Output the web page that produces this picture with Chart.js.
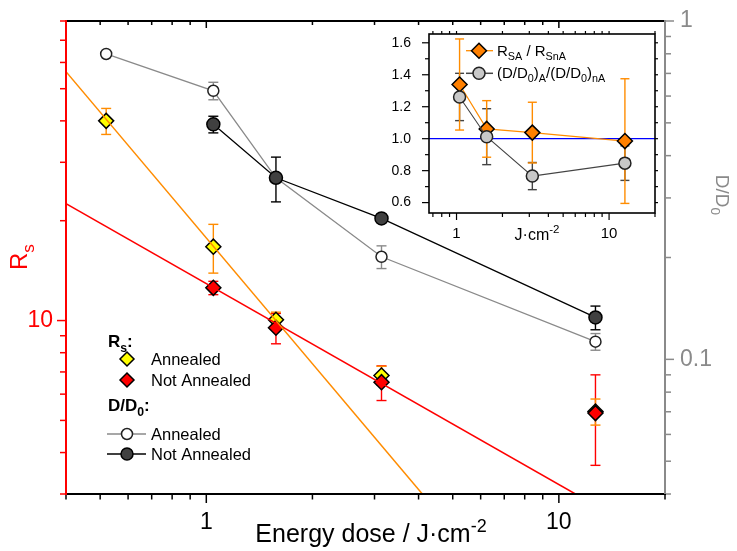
<!DOCTYPE html>
<html>
<head>
<meta charset="utf-8">
<script src="https://cdn.jsdelivr.net/npm/chart.js@4.4.0/dist/chart.umd.min.js"></script>
<style>
  body { margin: 0; background: #fff; }
  #wrap { position: relative; width: 737px; height: 551px; }
  #main { position: absolute; left: 0; top: 0; }
  #inset { position: absolute; left: 380px; top: 25px; }
</style>
</head>
<body>
<div id="wrap">
  <canvas id="main" width="737" height="551"></canvas>
  <canvas id="inset" width="285" height="225"></canvas>
</div>
<script>
// energy dose, J/cm2
const dose = [0.52, 1.047, 1.576, 3.14, 12.7];

// sheet resistance Rs (left axis)
const rsA = [40.0, 16.7, 10.05, 6.83, 5.32];
const rsAErr = [3.6, 2.8, 0.55, 0.45, 0.48];
const rsNA = [null, 12.55, 9.51, 6.52, 5.26];
const rsNAErr = [null, 0.58, 1.0, 0.78, 1.6];

// D/D0 (right axis)
const ddA = [0.799, 0.622, 0.344, 0.201, 0.1128];
const ddAErr = [0, 0.037, 0, 0.0155, 0.0064];
const ddNA = [null, 0.495, 0.344, 0.261, 0.133];
const ddNAErr = [null, 0.028, 0.052, 0.004, 0.0107];

// power-law fit lines, end points
const fitADose = [0.4, 4.1];
const fitARs = [56.3, 3];
const fitNADose = [0.4, 11.14];
const fitNARs = [22.5, 3];

// inset: ratios
const insetDose = [1.047, 1.576, 3.14, 12.7];
const ratioRs = [1.339, 1.061, 1.038, 0.985];
const ratioRsErr = [0.285, 0.177, 0.19, 0.39];
const ratioD = [1.261, 1.0125, 0.766, 0.847];
const ratioDErr = [0.148, 0.175, 0.085, 0.108];
const insetRefLevel = 1.0;

// axes
const xRange = [0.4, 20];
const rsRange = [3, 80];
const ddRange = [0.04, 1];
const xTickLabels = [1, 10];
const rsTickLabels = [10];
const ddTickLabels = [0.1, 1];
const insetXRange = [0.66, 20];
const insetYRange = [0.535, 1.655];
const insetXTickLabels = [1, 10];
const insetYTickLabels = [0.6, 0.8, 1.0, 1.2, 1.4, 1.6];

const FONT = 'Liberation Sans, Arial, Helvetica, sans-serif';
const GRAY = '#8a8a8a';
const ORANGE = '#ff8c00';

const pts = (xs, ys) => xs.map((x, i) => ({ x: x, y: ys[i] }));

function logTicks(min, max) {
  const out = [];
  for (let e = Math.floor(Math.log10(min)); e <= Math.ceil(Math.log10(max)); e++) {
    for (let k = 1; k <= 9; k++) {
      const v = k * Math.pow(10, e);
      if (v >= min * 0.999 && v <= max * 1.001) out.push({ v: v, major: k === 1 });
    }
  }
  return out;
}

function seg(ctx, x1, y1, x2, y2) {
  ctx.beginPath();
  ctx.moveTo(x1, y1);
  ctx.lineTo(x2, y2);
  ctx.stroke();
}

// fixed box size for a scale, no extra label padding
function fixSize(w, h) {
  return s => {
    if (w != null) s.width = w;
    if (h != null) s.height = h;
    s.paddingTop = s.paddingBottom = s.paddingLeft = s.paddingRight = 0;
  };
}

// text with sub / superscripts: parts = [[text, 'sub'|'sup'|undefined], ...]
function rich(ctx, parts, x, y, size, weight, align) {
  const fontOf = k => (weight || '') + ' ' + (k ? size * 0.72 : size) + 'px ' + FONT;
  let w = 0;
  parts.forEach(([t, k]) => { ctx.font = fontOf(k); w += ctx.measureText(t).width; });
  let cx = align === 'center' ? x - w / 2 : x;
  ctx.textAlign = 'left';
  ctx.textBaseline = 'alphabetic';
  parts.forEach(([t, k]) => {
    ctx.font = fontOf(k);
    const dy = k === 'sub' ? size * 0.28 : k === 'sup' ? -size * 0.42 : 0;
    ctx.fillText(t, cx, y + dy);
    cx += ctx.measureText(t).width;
  });
}

function marker(ctx, style, r, x, y, fill, stroke, bw) {
  ctx.fillStyle = fill;
  ctx.strokeStyle = stroke;
  ctx.lineWidth = bw;
  Chart.helpers.drawPoint(ctx, { pointStyle: style, radius: r, borderWidth: bw, rotation: 0 }, x, y);
}

// error bars from dataset.errors, drawn under the markers
const errorBars = {
  id: 'errorBars',
  beforeDatasetsDraw(chart) {
    const ctx = chart.ctx;
    ctx.save();
    chart.data.datasets.forEach((ds, i) => {
      if (!ds.errors) return;
      const meta = chart.getDatasetMeta(i);
      const sc = chart.scales[ds.yAxisID];
      ctx.strokeStyle = ds.errColor;
      ctx.lineWidth = 1.4;
      ds.data.forEach((p, j) => {
        const e = ds.errors[j];
        if (p.y == null || !e) return;
        const px = meta.data[j].x;
        const t = sc.getPixelForValue(p.y + e);
        const b = sc.getPixelForValue(p.y - e);
        seg(ctx, px, t, px, b);
        seg(ctx, px - ds.capW, t, px + ds.capW, t);
        seg(ctx, px - ds.capW, b, px + ds.capW, b);
      });
    });
    ctx.restore();
  }
};

const mainDecor = {
  id: 'mainDecor',
  afterDraw(chart) {
    const { ctx, chartArea: a } = chart;
    const { x, y, y2 } = chart.scales;
    ctx.save();
    ctx.lineCap = 'butt';
    // x ticks, bottom (out) and top (in)
    ctx.strokeStyle = '#000';
    ctx.lineWidth = 1.5;
    logTicks(x.min, x.max).forEach(t => {
      const px = x.getPixelForValue(t.v);
      seg(ctx, px, a.bottom, px, a.bottom + (t.major ? 9 : 5.5));
      seg(ctx, px, a.top, px, a.top + (t.major ? 7 : 4));
    });
    // left Rs ticks
    ctx.strokeStyle = '#ff0000';
    logTicks(y.min, y.max).forEach(t => {
      const py = y.getPixelForValue(t.v);
      seg(ctx, a.left, py, a.left - (t.major ? 9 : 6), py);
    });
    // right D/D0 ticks
    ctx.strokeStyle = GRAY;
    logTicks(y2.min, y2.max).forEach(t => {
      const py = y2.getPixelForValue(t.v);
      seg(ctx, a.right, py, a.right + (t.major ? 9 : 6), py);
    });
    // frame
    ctx.lineWidth = 2;
    ctx.strokeStyle = '#000';
    seg(ctx, a.left, a.top, a.right, a.top);
    seg(ctx, a.left, a.bottom, a.right + 1, a.bottom);
    ctx.strokeStyle = GRAY;
    seg(ctx, a.right, a.top - 1, a.right, a.bottom);
    ctx.strokeStyle = '#ff0000';
    seg(ctx, a.left, a.top - 1, a.left, a.bottom + 1);

    // axis titles
    ctx.fillStyle = '#000';
    rich(ctx, [['Energy dose / J\u00b7cm'], ['-2', 'sup']], 371, 542, 25, '', 'center');
    ctx.save();
    ctx.translate(27, 257);
    ctx.rotate(-Math.PI / 2);
    ctx.fillStyle = '#ff0000';
    rich(ctx, [['R'], ['s', 'sub']], 0, 0, 24, '', 'center');
    ctx.restore();
    ctx.save();
    ctx.translate(716, 195);
    ctx.rotate(Math.PI / 2);
    ctx.fillStyle = GRAY;
    rich(ctx, [['D/D'], ['0', 'sub']], 0, 0, 19, '', 'center');
    ctx.restore();

    // legend
    ctx.fillStyle = '#000';
    rich(ctx, [['R'], ['s', 'sub'], [':']], 108, 347, 17, 'bold');
    marker(ctx, 'rectRot', 7, 127, 359, '#ffff00', '#000', 1.5);
    marker(ctx, 'rectRot', 7, 127, 380, '#ff0000', '#000', 1.5);
    ctx.fillStyle = '#000';
    rich(ctx, [['Annealed']], 151, 365, 16.5);
    rich(ctx, [['Not Annealed']], 151, 386, 16.5);
    rich(ctx, [['D/D'], ['0', 'sub'], [':']], 108, 411, 17, 'bold');
    ctx.lineWidth = 1.3;
    ctx.strokeStyle = GRAY;
    seg(ctx, 107, 434, 146, 434);
    ctx.strokeStyle = '#000';
    seg(ctx, 107, 454, 146, 454);
    marker(ctx, 'circle', 5.5, 127, 434, '#fff', '#222', 1.5);
    marker(ctx, 'circle', 6, 127, 454, '#404040', '#000', 1.5);
    ctx.fillStyle = '#000';
    rich(ctx, [['Annealed']], 151, 440, 16.5);
    rich(ctx, [['Not Annealed']], 151, 460, 16.5);
    ctx.restore();
  }
};

new Chart(document.getElementById('main').getContext('2d'), {
  type: 'line',
  data: {
    datasets: [
      { data: pts(fitADose, fitARs), yAxisID: 'y', borderColor: ORANGE, borderWidth: 1.5, pointRadius: 0, order: 0 },
      { data: pts(fitNADose, fitNARs), yAxisID: 'y', borderColor: '#ff0000', borderWidth: 1.5, pointRadius: 0, order: 0 },
      { data: pts(dose, rsNA), yAxisID: 'y', showLine: false, pointStyle: 'rectRot', pointRadius: 7.5,
        pointBackgroundColor: '#ff0000', pointBorderColor: '#000', pointBorderWidth: 1.5, order: 1,
        errors: rsNAErr, errColor: '#ff0000', capW: 5 },
      { data: pts(dose, rsA), yAxisID: 'y', showLine: false, pointStyle: 'rectRot', pointRadius: 7.5,
        pointBackgroundColor: '#ffff00', pointBorderColor: '#000', pointBorderWidth: 1.5, order: 2,
        errors: rsAErr, errColor: ORANGE, capW: 5 },
      { data: pts(dose, ddNA), yAxisID: 'y2', borderColor: '#000', borderWidth: 1.3, pointRadius: 6.5,
        pointBackgroundColor: '#404040', pointBorderColor: '#000', pointBorderWidth: 1.5, order: 3,
        errors: ddNAErr, errColor: '#000', capW: 5 },
      { data: pts(dose, ddA), yAxisID: 'y2', borderColor: GRAY, borderWidth: 1.3, pointRadius: 5.5,
        pointBackgroundColor: '#fff', pointBorderColor: '#222', pointBorderWidth: 1.5, order: 4,
        errors: ddAErr, errColor: GRAY, capW: 5 }
    ]
  },
  options: {
    responsive: false,
    animation: false,
    devicePixelRatio: 1,
    layout: { padding: { top: 21, left: 0, right: 0, bottom: 0 } },
    plugins: { legend: { display: false }, tooltip: { enabled: false } },
    scales: {
      x: {
        type: 'logarithmic', position: 'bottom', min: xRange[0], max: xRange[1],
        grid: { display: false, drawTicks: false }, border: { display: false },
        afterBuildTicks: s => { s.ticks = xTickLabels.map(v => ({ value: v })); },
        afterFit: fixSize(null, 57),
        ticks: { autoSkip: false, maxRotation: 0, padding: 15, color: '#000',
          font: { family: FONT, size: 23 }, callback: v => String(v) }
      },
      y: {
        type: 'logarithmic', position: 'left', min: rsRange[0], max: rsRange[1],
        grid: { display: false, drawTicks: false }, border: { display: false },
        afterBuildTicks: s => { s.ticks = rsTickLabels.map(v => ({ value: v })); },
        afterFit: fixSize(66, null),
        ticks: { autoSkip: false, padding: 13, color: '#ff0000',
          font: { family: FONT, size: 23 }, callback: v => String(v) }
      },
      y2: {
        type: 'logarithmic', position: 'right', min: ddRange[0], max: ddRange[1],
        grid: { display: false, drawTicks: false }, border: { display: false },
        afterBuildTicks: s => { s.ticks = ddTickLabels.map(v => ({ value: v })); },
        afterFit: fixSize(72, null),
        ticks: { autoSkip: false, padding: 15, color: GRAY,
          font: { family: FONT, size: 23 }, callback: v => String(v) }
      }
    }
  },
  plugins: [errorBars, mainDecor]
});

// ---------- inset ----------
const insetDecor = {
  id: 'insetDecor',
  afterDraw(chart) {
    const { ctx, chartArea: a } = chart;
    const { x, y } = chart.scales;
    ctx.save();
    ctx.strokeStyle = '#000';
    ctx.lineWidth = 1.2;
    logTicks(x.min, x.max).forEach(t => {
      const px = x.getPixelForValue(t.v);
      seg(ctx, px, a.bottom, px, a.bottom + (t.major ? 7 : 4));
      seg(ctx, px, a.top, px, a.top - 3);
    });
    for (let v = 0.6; v <= 1.65; v += 0.1) {
      const py = y.getPixelForValue(v);
      const major = Math.round(v * 10) % 2 === 0;
      seg(ctx, a.left, py, a.left - (major ? 7 : 4), py);
      seg(ctx, a.right, py, a.right + 3, py);
    }
    ctx.lineWidth = 1.6;
    ctx.strokeRect(a.left, a.top, a.right - a.left, a.bottom - a.top);

    // x title
    ctx.fillStyle = '#000';
    rich(ctx, [['J\u00b7cm'], ['-2', 'sup']], 157, 215, 16, '', 'center');

    // legend
    ctx.lineWidth = 1.3;
    ctx.strokeStyle = ORANGE;
    seg(ctx, 86, 25.7, 113, 25.7);
    marker(ctx, 'rectRot', 7.5, 99, 25.7, '#ff8000', '#000', 1.5);
    ctx.strokeStyle = '#444';
    seg(ctx, 86, 48.3, 113, 48.3);
    marker(ctx, 'circle', 6, 99, 48.3, '#c8c8c8', '#222', 1.5);
    ctx.fillStyle = '#000';
    rich(ctx, [['R'], ['SA', 'sub'], [' / R'], ['SnA', 'sub']], 117, 30.5, 15);
    rich(ctx, [['(D/D'], ['0', 'sub'], [')'], ['A', 'sub'], ['/(D/D'], ['0', 'sub'], [')'], ['nA', 'sub']], 117, 53, 15);
    ctx.restore();
  }
};

new Chart(document.getElementById('inset').getContext('2d'), {
  type: 'line',
  data: {
    datasets: [
      { data: pts(insetXRange, [insetRefLevel, insetRefLevel]), borderColor: '#0000ff', borderWidth: 1.3,
        pointRadius: 0, order: 3 },
      { data: pts(insetDose, ratioD), borderColor: '#444', borderWidth: 1.1, pointRadius: 6,
        pointBackgroundColor: '#c8c8c8', pointBorderColor: '#222', pointBorderWidth: 1.5, order: 0,
        errors: ratioDErr, errColor: '#444', capW: 4.5, yAxisID: 'y' },
      { data: pts(insetDose, ratioRs), borderColor: ORANGE, borderWidth: 1.2, pointStyle: 'rectRot', pointRadius: 7.5,
        pointBackgroundColor: '#ff8000', pointBorderColor: '#000', pointBorderWidth: 1.5, order: 1,
        errors: ratioRsErr, errColor: ORANGE, capW: 4.5, yAxisID: 'y' }
    ]
  },
  options: {
    responsive: false,
    animation: false,
    devicePixelRatio: 1,
    layout: { padding: { top: 9, right: 10, left: 0, bottom: 0 } },
    plugins: { legend: { display: false }, tooltip: { enabled: false } },
    scales: {
      x: {
        type: 'logarithmic', min: insetXRange[0], max: insetXRange[1],
        grid: { display: false, drawTicks: false }, border: { display: false },
        afterBuildTicks: s => { s.ticks = insetXTickLabels.map(v => ({ value: v })); },
        afterFit: fixSize(null, 37),
        ticks: { autoSkip: false, maxRotation: 0, padding: 12, color: '#000',
          font: { family: FONT, size: 15 }, callback: v => String(v) }
      },
      y: {
        type: 'linear', min: insetYRange[0], max: insetYRange[1],
        grid: { display: false, drawTicks: false }, border: { display: false },
        afterBuildTicks: s => { s.ticks = insetYTickLabels.map(v => ({ value: v })); },
        afterFit: fixSize(49, null),
        ticks: { autoSkip: false, padding: 18, color: '#000',
          font: { family: FONT, size: 14 }, callback: v => v.toFixed(1) }
      }
    }
  },
  plugins: [errorBars, insetDecor]
});
</script>
</body>
</html>
